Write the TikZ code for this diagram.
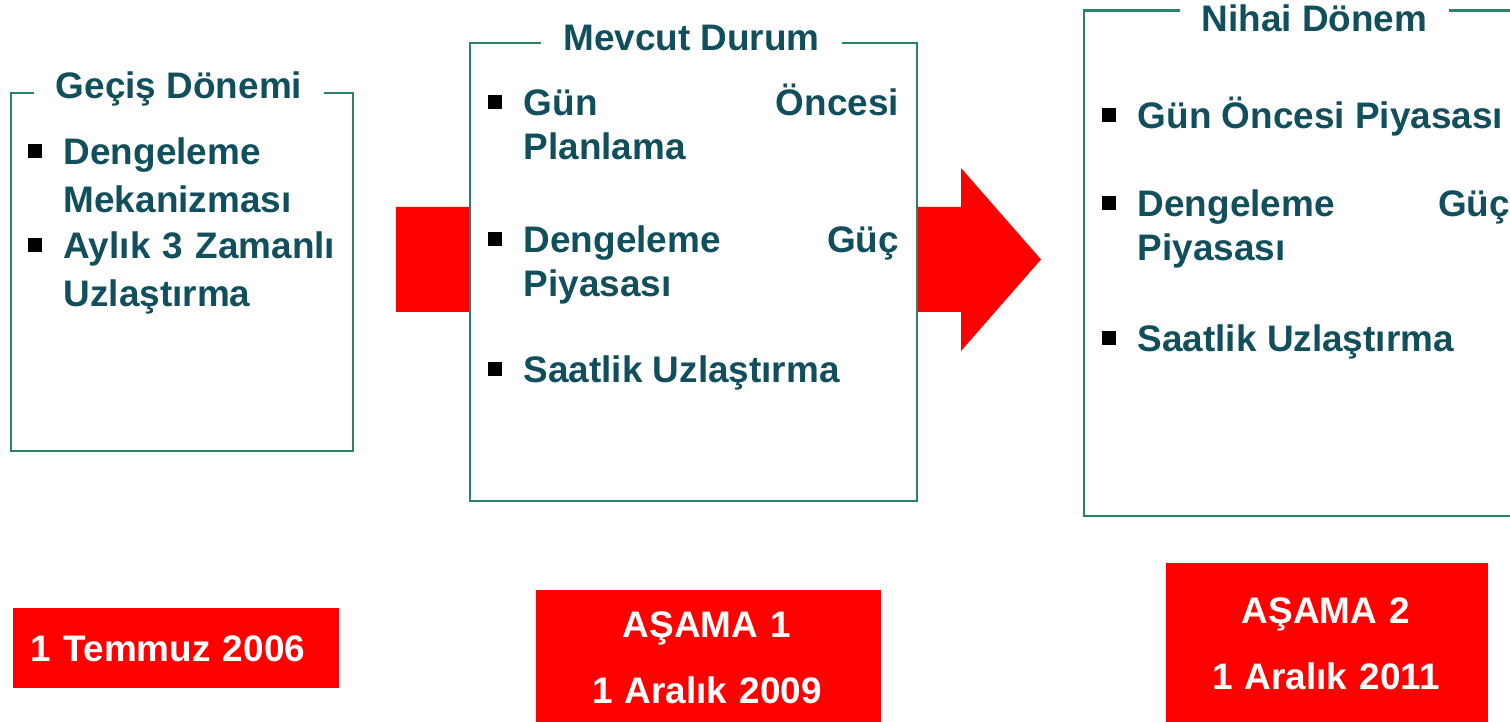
\documentclass[tikz,border=0pt]{standalone}
\usepackage{fontspec}
\setmainfont{Liberation Sans}
\definecolor{tealtext}{RGB}{17,79,92}
\definecolor{framegreen}{RGB}{40,130,108}
\definecolor{datered}{RGB}{255,0,0}
\tikzset{
  stagebox/.style={draw=framegreen, line width=0.6pt, fill=white, anchor=north west, inner sep=0pt},
  heading/.style={fill=white, text=tealtext, font=\bfseries\fontsize{10.5}{12}\selectfont, inner xsep=0.22cm, inner ysep=1pt, anchor=base},
  entry/.style={text=tealtext, font=\bfseries\fontsize{10.5}{12.4}\selectfont, align=left, anchor=base west, inner sep=0pt},
  bullet/.style={fill=black, minimum size=0.145cm, inner sep=0pt},
  datebox/.style={fill=datered, anchor=north west, inner sep=0pt},
  datetext/.style={text=white, font=\bfseries\fontsize{10.5}{19}\selectfont, text width=3.2cm, align=center, anchor=base, inner sep=0pt}
}
\begin{document}
\begin{tikzpicture}[x=0.01cm, y=-0.01cm]
    \clip (0, 0) rectangle (1510, 722);
    % red arrow, partly hidden behind the middle box
    \fill[datered] (396, 207) -- (961, 207) -- (961, 168) -- (1041, 259.5)
        -- (961, 351) -- (961, 312) -- (396, 312) -- cycle;
    % the three stages
    \node[stagebox, minimum width=3.42cm, minimum height=3.58cm] (gecis) at (10, 92) {};
    \node[stagebox, minimum width=4.47cm, minimum height=4.58cm] (mevcut) at (469, 42) {};
    \node[stagebox, minimum width=5.00cm, minimum height=5.055cm] (nihai) at (1083, 9.5) {};
    \node[heading] (gecis-t) at (179, 99) {Geçiş Dönemi};
    \node[heading] (mevcut-t) at (691.5, 51) {Mevcut Durum};
    \node[heading] (nihai-t) at (1314.5, 32) {Nihai Dönem};
    % entries
    \node[entry, text width=2.85cm, font=\bfseries\fontsize{10.5}{13.4}\selectfont] (g1) at (63, 165) {Dengeleme\\Mekanizması};
    \node[entry, text width=2.85cm, font=\bfseries\fontsize{10.5}{13.4}\selectfont] (g2) at (63, 259) {Aylık 3 Zamanlı\\Uzlaştırma};
    \node[entry, text width=3.75cm] (m1) at (523, 116) {Gün\hfill Öncesi\\Planlama};
    \node[entry, text width=3.75cm] (m2) at (523, 253) {Dengeleme\hfill Güç\\Piyasası};
    \node[entry] (m3) at (523, 383) {Saatlik Uzlaştırma};
    \node[entry] (n1) at (1137, 129) {Gün Öncesi Piyasası};
    \node[entry, text width=3.72cm] (n2) at (1137, 217) {Dengeleme\hfill Güç\\Piyasası};
    \node[entry] (n3) at (1137, 352) {Saatlik Uzlaştırma};
    \foreach \n in {g1, g2, m1, m2, m3, n1, n2, n3}
        \node[bullet] (b-\n) at ([xshift=-0.28cm, yshift=0.14cm] \n.base west) {};
    % dates
    \node[datebox, minimum width=3.26cm, minimum height=0.80cm] (d1) at (12, 607) {};
    \node[datebox, minimum width=3.45cm, minimum height=1.60cm] (d2) at (535, 589) {};
    \node[datebox, minimum width=3.22cm, minimum height=1.80cm] (d3) at (1165, 562) {};
    \node[datetext] (d1-t) at (168, 661) {1 Temmuz 2006};
    \node[datetext] (d2-t) at (707, 637) {AŞAMA 1\\1 Aralık 2009};
    \node[datetext] (d3-t) at (1326, 623) {AŞAMA 2\\1 Aralık 2011};
\end{tikzpicture}
\end{document}
